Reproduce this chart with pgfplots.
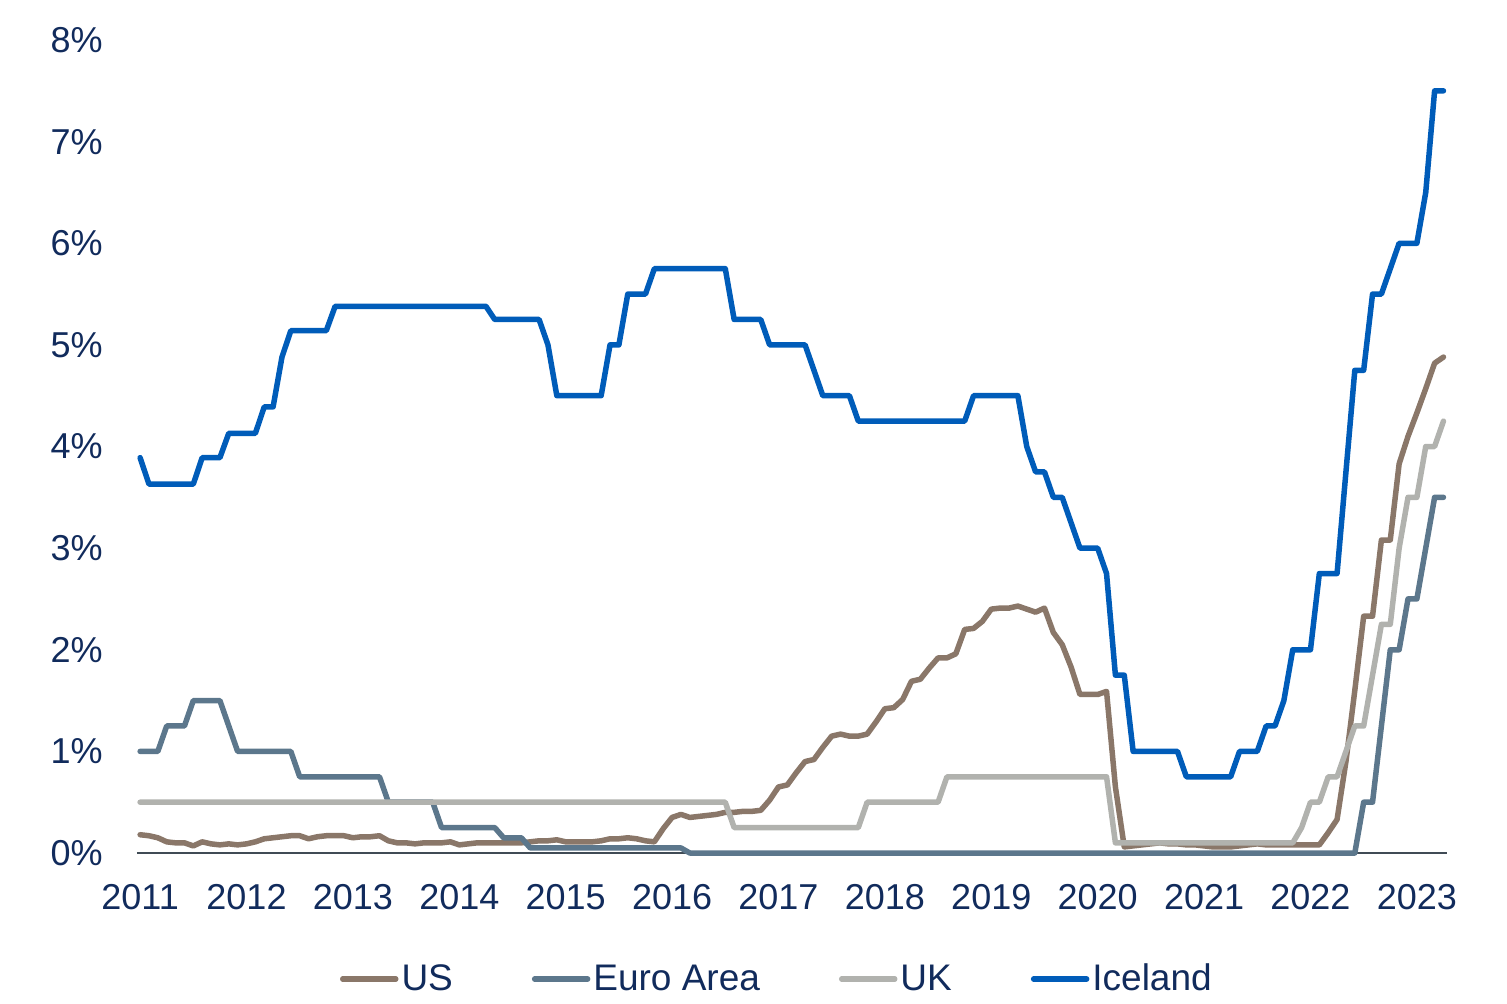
\documentclass[border=0pt]{standalone}
\usepackage{pgfplots}
\usepackage{pgfplotstable}
\pgfplotsset{compat=1.18}
\usepackage{fontspec}
\setmainfont{Liberation Sans}
\definecolor{cUS}{HTML}{8A7769}
\definecolor{cEU}{HTML}{5C778C}
\definecolor{cUK}{HTML}{B1B2AE}
\definecolor{cIS}{HTML}{005CB9}
\definecolor{txt}{HTML}{112B5C}
\definecolor{axisgray}{HTML}{404B55}

% month index: 0 = Jan 2011
\pgfplotstableread{
m v
0 0.18
1 0.17
2 0.15
3 0.11
4 0.10
5 0.10
6 0.07
7 0.11
8 0.09
9 0.08
10 0.09
11 0.08
12 0.09
13 0.11
14 0.14
15 0.15
16 0.16
17 0.17
18 0.17
19 0.14
20 0.16
21 0.17
22 0.17
23 0.17
24 0.15
25 0.16
26 0.16
27 0.17
28 0.12
29 0.10
30 0.10
31 0.09
32 0.10
33 0.10
34 0.10
35 0.11
36 0.08
37 0.09
38 0.10
39 0.10
40 0.10
41 0.10
42 0.10
43 0.10
44 0.11
45 0.12
46 0.12
47 0.13
48 0.11
49 0.11
50 0.11
51 0.11
52 0.12
53 0.14
54 0.14
55 0.15
56 0.14
57 0.12
58 0.11
59 0.24
60 0.35
61 0.38
62 0.35
63 0.36
64 0.37
65 0.38
66 0.40
67 0.40
68 0.41
69 0.41
70 0.42
71 0.52
72 0.65
73 0.67
74 0.79
75 0.90
76 0.92
77 1.04
78 1.15
79 1.17
80 1.15
81 1.15
82 1.17
83 1.29
84 1.42
85 1.43
86 1.51
87 1.69
88 1.71
89 1.82
90 1.92
91 1.92
92 1.96
93 2.20
94 2.21
95 2.28
96 2.40
97 2.41
98 2.41
99 2.43
100 2.40
101 2.37
102 2.41
103 2.17
104 2.05
105 1.83
106 1.56
107 1.56
108 1.56
109 1.59
110 0.65
111 0.06
112 0.07
113 0.08
114 0.09
115 0.10
116 0.09
117 0.09
118 0.08
119 0.08
120 0.07
121 0.06
122 0.06
123 0.06
124 0.07
125 0.08
126 0.09
127 0.08
128 0.08
129 0.08
130 0.08
131 0.08
132 0.08
133 0.08
134 0.20
135 0.33
136 0.90
137 1.60
138 2.33
139 2.33
140 3.08
141 3.08
142 3.83
143 4.10
144 4.33
145 4.57
146 4.82
147 4.88
}\usdata

\pgfplotstableread{
m v
0 1.0
2 1.0
3 1.25
5 1.25
6 1.5
9 1.5
11 1.0
17 1.0
18 0.75
27 0.75
28 0.5
33 0.5
34 0.25
40 0.25
41 0.15
43 0.15
44 0.05
61 0.05
62 0
137 0
138 0.5
139 0.5
140 1.25
141 2.0
142 2.0
143 2.5
144 2.5
145 3.0
146 3.5
147 3.5
}\eudata

\pgfplotstableread{
m v
0 0.5
66 0.5
67 0.25
81 0.25
82 0.5
90 0.5
91 0.75
109 0.75
110 0.1
130 0.1
131 0.25
132 0.5
133 0.5
134 0.75
135 0.75
136 1.0
137 1.25
138 1.25
139 1.75
140 2.25
141 2.25
142 3.0
143 3.5
144 3.5
145 4.0
146 4.0
147 4.25
}\ukdata

\pgfplotstableread{
m v
0 3.89
1 3.63
6 3.63
7 3.89
9 3.89
10 4.13
13 4.13
14 4.39
15 4.39
16 4.88
17 5.14
21 5.14
22 5.38
39 5.38
40 5.25
45 5.25
46 5.0
47 4.5
52 4.5
53 5.0
54 5.0
55 5.5
57 5.5
58 5.75
66 5.75
67 5.25
70 5.25
71 5.0
75 5.0
77 4.5
80 4.5
81 4.25
93 4.25
94 4.5
99 4.5
100 4.0
101 3.75
102 3.75
103 3.5
104 3.5
106 3.0
108 3.0
109 2.75
110 1.75
111 1.75
112 1.0
117 1.0
118 0.75
123 0.75
124 1.0
126 1.0
127 1.25
128 1.25
129 1.5
130 2.0
132 2.0
133 2.75
135 2.75
137 4.75
138 4.75
139 5.5
140 5.5
142 6.0
144 6.0
145 6.5
146 7.5
147 7.5
}\isdata

\begin{document}
\begin{tikzpicture}
\useasboundingbox (-68.5pt,-75pt) rectangle (685pt,426.5pt);
\begin{axis}[
  at={(0pt,0pt)}, anchor=south west,
  scale only axis, width=655pt, height=406.5pt,
  xmin=-0.35, xmax=147.4, ymin=0, ymax=8,
  clip=false,
  axis lines*=left,
  y axis line style={draw=none},
  x axis line style={draw=axisgray, line width=0.8pt},
  major tick length=0pt,
  xtick={0,12,24,36,48,60,72,84,96,108,120,132,144},
  xticklabels={2011,2012,2013,2014,2015,2016,2017,2018,2019,2020,2021,2022,2023},
  ytick={0,1,2,3,4,5,6,7,8},
  yticklabels={0\%,1\%,2\%,3\%,4\%,5\%,6\%,7\%,8\%},
  tick label style={font=\fontsize{18}{21}\selectfont, text=txt},
  xticklabel style={anchor=north, inner sep=0pt, yshift=-15.5pt},
  yticklabel style={anchor=east, inner sep=0pt, xshift=-17pt},
  legend columns=4,
  legend cell align=left,
  legend style={at={(0,0)}, anchor=west, xshift=101.5pt, yshift=-63pt,
    draw=none, fill=none, inner sep=0pt, outer sep=0pt,
    font=\fontsize{18.5}{22}\selectfont, text=txt,
    nodes={inner sep=0pt},
    /tikz/every odd column/.append style={column sep=1.5pt},
    /tikz/every even column/.append style={column sep=39.5pt}},
  legend image code/.code={\draw[#1, line width=2.75pt, line cap=round] (0pt,0pt) -- (26.5pt,0pt);},
  every axis plot/.append style={line width=2.75pt, line cap=round, line join=round},
]
\addplot[cUS] table[x=m, y=v] {\usdata};
\addlegendentry{US}
\addplot[cEU] table[x=m, y=v] {\eudata};
\addlegendentry{Euro Area}
\addplot[cUK] table[x=m, y=v] {\ukdata};
\addlegendentry{UK}
\addplot[cIS] table[x=m, y=v] {\isdata};
\addlegendentry{Iceland}
\end{axis}
\end{tikzpicture}
\end{document}
